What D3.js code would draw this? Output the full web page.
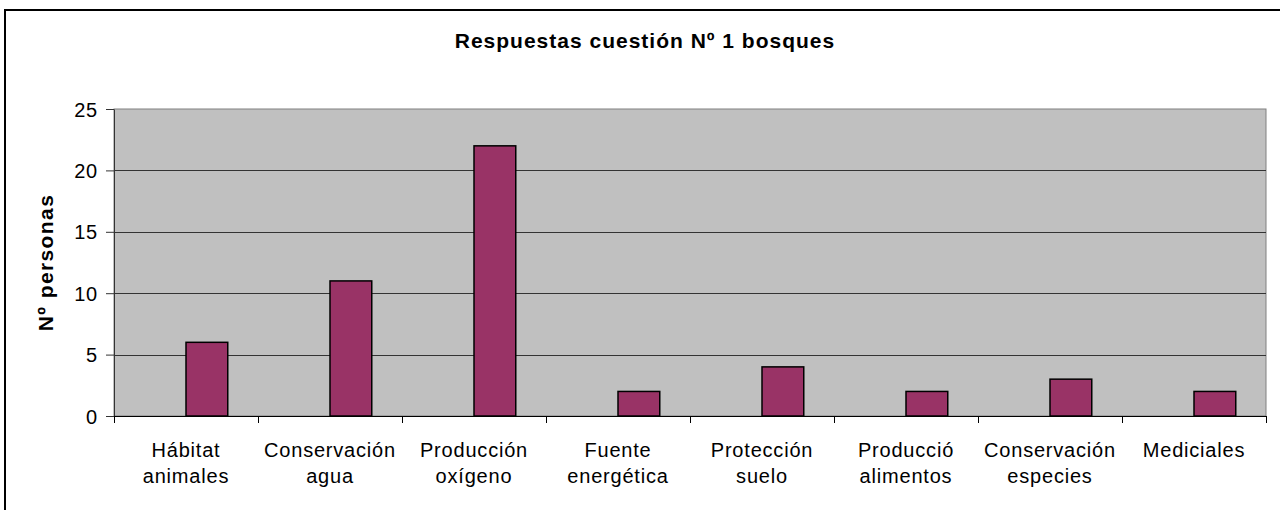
<!DOCTYPE html>
<html>
<head>
<meta charset="utf-8">
<script src="https://cdn.jsdelivr.net/npm/d3@7"></script>
<style>
  body { margin: 0; background: #fff; }
  text { font-family: "Liberation Sans", Arial, sans-serif; fill: #000; }
</style>
</head>
<body>
<div id="chart"></div>
<script>
// Data
const categories = [
  ["Hábitat", "animales"],
  ["Conservación", "agua"],
  ["Producción", "oxígeno"],
  ["Fuente", "energética"],
  ["Protección", "suelo"],
  ["Producció", "alimentos"],
  ["Conservación", "especies"],
  ["Mediciales"]
];
const values = [6, 11, 22, 2, 4, 2, 3, 2];
const yTicks = [0, 5, 10, 15, 20, 25];

const W = 1280, H = 510;
const plot = { left: 114, top: 109, right: 1266, bottom: 416 };

const svg = d3.select("#chart")
  .append("svg")
  .attr("width", W)
  .attr("height", H);

// Outer chart border (only top and left edges fall inside the crop)
svg.append("rect")
  .attr("x", 5).attr("y", 10)
  .attr("width", 2000).attr("height", 2000)
  .attr("fill", "none")
  .attr("stroke", "#000")
  .attr("stroke-width", 2);

// Scales
const x = d3.scaleBand()
  .domain(d3.range(categories.length))
  .range([plot.left, plot.right]);

const y = d3.scaleLinear()
  .domain([0, 25])
  .range([plot.bottom, plot.top]);

// Plot area background
svg.append("rect")
  .attr("x", plot.left).attr("y", plot.top)
  .attr("width", plot.right - plot.left)
  .attr("height", plot.bottom - plot.top)
  .attr("fill", "#c0c0c0")
  .attr("stroke", "#808080")
  .attr("stroke-width", 1);

// Gridlines
svg.append("g")
  .selectAll("line")
  .data(yTicks.filter(d => d > 0 && d < 25))
  .enter()
  .append("line")
  .attr("x1", plot.left).attr("x2", plot.right)
  .attr("y1", d => Math.round(y(d)) + 0.5)
  .attr("y2", d => Math.round(y(d)) + 0.5)
  .attr("stroke", "#333")
  .attr("stroke-width", 1);

// Bars (sit in the right half of each category, like an empty first series)
svg.append("g")
  .selectAll("rect")
  .data(values)
  .enter()
  .append("rect")
  .attr("x", (d, i) => x(i) + x.bandwidth() * 0.5)
  .attr("y", d => y(d))
  .attr("width", x.bandwidth() * 0.29)
  .attr("height", d => y(0) - y(d))
  .attr("fill", "#993366")
  .attr("stroke", "#000")
  .attr("stroke-width", 1.5);

// Y axis
const yAxis = svg.append("g")
  .attr("transform", `translate(${plot.left},0)`)
  .call(d3.axisLeft(y).tickValues(yTicks).tickSize(8).tickPadding(8).tickSizeOuter(0));
yAxis.select(".domain").attr("stroke", "#333");
yAxis.selectAll(".tick line").attr("stroke", "#333");
yAxis.selectAll("text")
  .style("font-size", "20px")
  .style("letter-spacing", "0.8px")
  .attr("dy", "0.35em")
  .attr("font-family", "Liberation Sans, Arial, sans-serif");

// X axis line and category ticks at band boundaries
svg.append("line")
  .attr("x1", plot.left).attr("x2", plot.right)
  .attr("y1", plot.bottom + 0.5).attr("y2", plot.bottom + 0.5)
  .attr("stroke", "#000");

svg.append("g")
  .selectAll("line")
  .data(d3.range(categories.length + 1))
  .enter()
  .append("line")
  .attr("x1", i => Math.round(plot.left + i * x.step()) + 0.5)
  .attr("x2", i => Math.round(plot.left + i * x.step()) + 0.5)
  .attr("y1", plot.bottom)
  .attr("y2", plot.bottom + 7)
  .attr("stroke", "#000");

// Category labels
const labels = svg.append("g")
  .selectAll("text")
  .data(categories)
  .enter()
  .append("text")
  .attr("x", (d, i) => x(i) + x.bandwidth() / 2)
  .attr("y", 457)
  .attr("text-anchor", "middle")
  .style("font-size", "20px")
  .style("letter-spacing", "0.8px");

labels.selectAll("tspan")
  .data(d => d)
  .enter()
  .append("tspan")
  .attr("x", function () { return d3.select(this.parentNode).attr("x"); })
  .attr("dy", (d, i) => i === 0 ? 0 : 26)
  .text(d => d);

// Title
svg.append("text")
  .attr("x", 645)
  .attr("y", 48)
  .attr("text-anchor", "middle")
  .style("font-size", "21px")
  .style("font-weight", "bold")
  .style("letter-spacing", "1px")
  .text("Respuestas cuestión Nº 1 bosques");

// Y axis label
svg.append("text")
  .attr("transform", `translate(53,${(plot.top + plot.bottom) / 2}) rotate(-90)`)
  .attr("text-anchor", "middle")
  .style("font-size", "21px")
  .style("font-weight", "bold")
  .style("letter-spacing", "1.4px")
  .text("Nº personas");
</script>
</body>
</html>
